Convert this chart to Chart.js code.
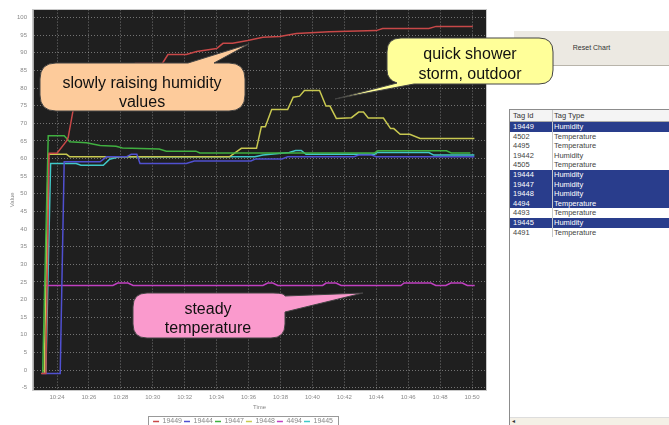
<!DOCTYPE html>
<html>
<head>
<meta charset="utf-8">
<script src="https://cdn.jsdelivr.net/npm/chart.js@4/dist/chart.umd.min.js"></script>
<style>
  body { margin: 0; width: 669px; height: 425px; overflow: hidden; position: relative; background: #fff; font-family: "Liberation Sans", Arial, sans-serif; }
  #wrap { position: absolute; left: 0; top: 0; width: 492px; height: 435px; }
  #reset { position: absolute; left: 514px; top: 31px; width: 155px; height: 34px; background: #ece9e2; border-bottom: 1px solid #b8b4aa; font-size: 7px; color: #333; text-align: center; line-height: 34px; }
  #tags { position: absolute; left: 509px; top: 109px; width: 170px; height: 330px; border-left: 1px solid #8c8c8c; border-top: 1px solid #8c8c8c; font-size: 7.5px; color: #444; }
  #tags .row { position: relative; height: 9.6px; line-height: 9.6px; white-space: nowrap; }
  #tags .head { height: 11px; line-height: 11px; background: #f4f4f4; border-bottom: 1px solid #aaa; color: #333; }
  #tags .sel { background: #293d8c; color: #fff; }
  #tags .c1 { position: absolute; left: 3px; }
  #tags .c2 { position: absolute; left: 44px; }
  #tags .div { position: absolute; left: 42px; top: 0; bottom: 0; width: 1px; background: #c8c8c8; }
  #scroll { position: absolute; left: 510px; top: 417px; width: 160px; height: 8px; background: #f4f0e6; border-top: 1px solid #ddd; }
  #scroll span { position: absolute; left: 2px; top: -1px; font-size: 6px; color: #333; }
  svg { position: absolute; left: 0; top: 0; }
</style>
</head>
<body>
<div id="wrap"><canvas id="chart"></canvas></div>
<div id="reset">Reset Chart</div>
<div id="tags"></div>
<div id="scroll"><span>◂</span></div>
<svg width="669" height="425" font-family="Liberation Sans, Arial, sans-serif" font-size="16" fill="#111">
  <path d="M56,63 L188,63 L249,44 L214,63 L229,63 Q245,63 245,79 L245,95 Q245,111 229,111 L56,111 Q40,111 40,95 L40,79 Q40,63 56,63 Z" fill="#fdcb9b" stroke="#444" stroke-width="1"/>
  <text x="142" y="88" text-anchor="middle">slowly raising humidity</text>
  <text x="142" y="107" text-anchor="middle">values</text>
  <path d="M401,38 L539,38 Q553,38 553,52 L553,70 Q553,84 539,84 L414,84 L335,99 L397,83 Q387,80 387,70 L387,52 Q387,38 401,38 Z" fill="#ffff99" stroke="#444" stroke-width="1"/>
  <text x="470" y="59" text-anchor="middle">quick shower</text>
  <text x="470" y="79" text-anchor="middle">storm, outdoor</text>
  <path d="M147,293 L273,293 Q285,293 285,296 L363,293 L285,312 L285,324 Q285,338 271,338 L147,338 Q133,338 133,324 L133,307 Q133,293 147,293 Z" fill="#fa9acd" stroke="#444" stroke-width="1"/>
  <text x="208" y="314" text-anchor="middle">steady</text>
  <text x="208" y="333" text-anchor="middle">temperature</text>
</svg>
<script>
// time = minutes after 10:00
const seriesNames = ["19449", "19444", "19447", "19448", "4494", "19445"];
const seriesColors = ["#c84848", "#5050d0", "#40b040", "#c8c850", "#c040c0", "#40c8c8"];

const t19449 = [23.0, 23.3, 23.5, 24.0, 24.6, 24.7, 25.0, 26.0, 27.5, 28.9, 30.6, 30.95, 32.1, 32.75, 34.0, 34.4, 35.0, 35.95, 36.9, 37.95, 39.0, 41.05, 44.0, 44.4, 47.3, 47.75, 50.05];
const v19449 = [-1, -1, 61.5, 61.5, 65, 66, 73.5, 79, 84, 87, 87, 89.5, 89.5, 90.4, 91.2, 92.7, 92.7, 93.5, 94.4, 94.6, 95.5, 96, 96.3, 96.9, 96.9, 97.5, 97.5];

const t19444 = [23.05, 24.2, 24.45, 26.7, 27.1, 28.35, 28.65, 29.0, 29.2, 32.1, 32.6, 36.15, 36.45, 38.1, 38.45, 42.6, 42.9, 43.7, 44.0, 50.15];
const v19444 = [-1, -1, 59.1, 59.1, 60.5, 60.5, 61.2, 61.2, 58.6, 58.6, 59.3, 59.3, 59.9, 59.9, 60.5, 60.5, 61.0, 61.0, 60.5, 60.5];

const t19447 = [23.1, 23.45, 24.45, 24.8, 25.85, 26.15, 26.7, 27.7, 28.1, 30.4, 30.85, 32.7, 32.95, 43.9, 44.1, 48.4, 48.7, 49.9];
const v19447 = [-1, 66.5, 66.5, 64.8, 64.5, 64.2, 63.7, 63.5, 63.0, 62.7, 62.1, 62.1, 61.6, 61.6, 62.2, 62.2, 61.6, 61.6];

const t19448 = [23.2, 23.45, 24.6, 24.8, 34.8, 35.55, 36.5, 36.8, 37.05, 37.45, 38.45, 38.8, 39.2, 39.5, 40.45, 40.85, 41.1, 41.5, 42.45, 42.9, 43.2, 43.5, 44.45, 44.9, 45.1, 45.5, 46.1, 46.75, 50.15];
const v19448 = [-1, 61.2, 61.2, 60.5, 60.5, 62.9, 62.9, 69, 69, 73.9, 73.9, 77.4, 77.7, 79.3, 79.3, 74.9, 74.9, 71.4, 71.6, 73.2, 73.2, 71.5, 71.5, 68.5, 68.5, 66.9, 66.9, 65.7, 65.7];

const t4494 = [23.15, 27.5, 27.8, 28.45, 28.77, 36.9, 37.2, 37.52, 37.83, 40.64, 40.86, 41.48, 41.8, 45.54, 45.75, 47.42, 47.73, 48.36, 48.67, 49.39, 49.71, 50.17];
const v4494 = [24, 24, 24.7, 24.7, 24, 24, 24.7, 24.7, 24, 24, 24.7, 24.7, 24, 24, 24.7, 24.7, 24, 24, 24.7, 24.7, 24, 24];

const t19445 = [23.3, 23.6, 25.2, 25.5, 26.9, 27.3, 27.9, 36.4, 36.9, 38.55, 38.95, 39.3, 39.6, 43.9, 44.05, 47.3, 47.6, 50.15];
const v19445 = [-1, 58.6, 58.6, 58.1, 58.1, 59.8, 60.5, 60.5, 61.0, 61.7, 62.3, 62.3, 61.2, 61.2, 61.7, 61.7, 61.0, 61.0];

const xTickValues = [24, 26, 28, 30, 32, 34, 36, 38, 40, 42, 44, 46, 48, 50];
const xTickLabels = ["10:24", "10:26", "10:28", "10:30", "10:32", "10:34", "10:36", "10:38", "10:40", "10:42", "10:44", "10:46", "10:48", "10:50"];
const yTickValues = [-5, 0, 5, 10, 15, 20, 25, 30, 35, 40, 45, 50, 55, 60, 65, 70, 75, 80, 85, 90, 95, 100];

const tagIds = ["19449", "4502", "4495", "19442", "4505", "19444", "19447", "19448", "4494", "4493", "19445", "4491"];
const tagTypes = ["Humidity", "Temperature", "Temperature", "Humidity", "Temperature", "Humidity", "Humidity", "Humidity", "Temperature", "Temperature", "Humidity", "Temperature"];

// tag table
const tags = document.getElementById("tags");
let html = '<div class="row head"><span class="c1">Tag Id</span><span class="div"></span><span class="c2">Tag Type</span></div>';
tagIds.forEach(function(id, i) {
  const sel = seriesNames.indexOf(id) >= 0 ? " sel" : "";
  html += '<div class="row' + sel + '"><span class="c1">' + id + '</span><span class="div"></span><span class="c2">' + tagTypes[i] + '</span></div>';
});
tags.innerHTML = html;

const times = [t19449, t19444, t19447, t19448, t4494, t19445];
const values = [v19449, v19444, v19447, v19448, v4494, v19445];

const datasets = seriesNames.map(function(name, i) {
  return {
    label: name,
    data: times[i].map(function(t, j) { return { x: t, y: values[i][j] }; }),
    borderColor: seriesColors[i],
    backgroundColor: seriesColors[i],
    borderWidth: 1.5,
    pointRadius: 0,
    tension: 0,
    fill: false
  };
});

const plotBg = {
  id: "plotBg",
  beforeDraw: function(chart) {
    const a = chart.chartArea;
    const c = chart.ctx;
    c.save();
    c.fillStyle = "#1f1f1f";
    c.fillRect(a.left, a.top, a.right - a.left, a.bottom - a.top);
    c.restore();
  },
  afterDraw: function(chart) {
    const a = chart.chartArea;
    const c = chart.ctx;
    c.save();
    c.strokeStyle = "#c8c8c8";
    c.lineWidth = 1;
    c.strokeRect(Math.round(a.left) - 0.5, Math.round(a.top) - 0.5, Math.round(a.right - a.left) + 1, Math.round(a.bottom - a.top) + 1);
    c.restore();
  }
};

const legendFrame = {
  id: "legendFrame",
  afterDraw: function(chart) {
    const boxes = chart.legend.legendHitBoxes;
    if (!boxes || !boxes.length) return;
    let l = Infinity, r = -Infinity;
    boxes.forEach(function(b) { l = Math.min(l, b.left); r = Math.max(r, b.left + b.width); });
    const c = chart.ctx;
    c.save();
    c.strokeStyle = "#999";
    c.lineWidth = 1;
    c.strokeRect(Math.round(l - 5) + 0.5, Math.round(boxes[0].top - 2) + 0.5, Math.round(r - l + 10), 20);
    c.restore();
  }
};

Chart.defaults.font.family = "'Liberation Sans', Arial, sans-serif";

new Chart(document.getElementById("chart"), {
  type: "line",
  data: { datasets: datasets },
  options: {
    responsive: true,
    maintainAspectRatio: false,
    animation: false,
    layout: { padding: { top: 8, right: 6, left: 0, bottom: 0 } },
    plugins: {
      tooltip: { enabled: false },
      legend: {
        position: "bottom",
        labels: { usePointStyle: true, pointStyle: "line", pointStyleWidth: 6, padding: 2, color: "#888", font: { size: 7 } }
      }
    },
    scales: {
      x: {
        type: "linear",
        min: 22.496,
        max: 50.877,
        afterBuildTicks: function(s) { s.ticks = xTickValues.map(function(v) { return { value: v }; }); },
        afterFit: function(s) { s.height = 26; },
        ticks: {
          autoSkip: false, maxRotation: 0, padding: 4, color: "#888", font: { size: 6 },
          callback: function(v) { return xTickLabels[xTickValues.indexOf(v)]; }
        },
        grid: { color: "rgba(200,200,200,0.5)", drawTicks: false },
        border: { display: true, color: "#aaa", dash: [1, 2] },
        title: { display: true, text: "Time", color: "#888", font: { size: 6 }, padding: { top: 0, bottom: 5 } }
      },
      y: {
        min: -5.65,
        max: 102.26,
        afterBuildTicks: function(s) { s.ticks = yTickValues.map(function(v) { return { value: v }; }); },
        afterFit: function(s) { s.width = 33; },
        ticks: { padding: 6, color: "#888", font: { size: 6 } },
        grid: { color: "rgba(200,200,200,0.5)", drawTicks: false },
        border: { display: true, color: "#aaa", dash: [1, 2] },
        title: { display: true, text: "Value", color: "#888", font: { size: 6 }, padding: { top: 9, bottom: 0 } }
      }
    }
  },
  plugins: [plotBg, legendFrame]
});
</script>
</body>
</html>
